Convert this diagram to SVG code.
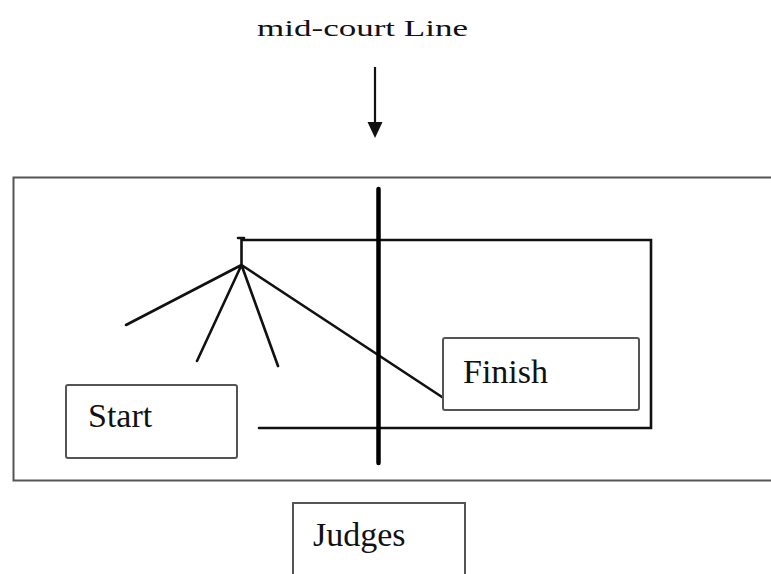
<svg xmlns="http://www.w3.org/2000/svg" width="771" height="574" viewBox="0 0 771 574">
<style>
.box{fill:#fff;stroke:#555;stroke-width:2}
.lbl{font-family:"Liberation Serif","Times New Roman",serif;font-size:34px;fill:#111}
.ln{fill:none;stroke:#111;stroke-width:2.6;stroke-linecap:round}
</style>
<rect width="771" height="574" fill="#fff"/>
<g id="court">
<path d="M780 177.5 H13.5 V480.5 H780" fill="none" stroke="#555" stroke-width="2"/>
<path class="ln" d="M243 240 H651 V428 H259" stroke-width="3"/>
</g>
<g id="connectors">
<line x1="375" y1="67" x2="375" y2="124" stroke="#111" stroke-width="2.2"/>
<polygon points="367.5,122 382.5,122 375,138" fill="#111"/>
<path class="ln" d="M238 238 H244 M241.5 238 V265" stroke-width="3"/>
<path class="ln" d="M241.5 265 L126 325 M241.5 265 L197 361 M241.5 265 L278 366 M241.5 265 L442 397"/>
</g>
<g id="midcourt">
<line x1="378.5" y1="189" x2="378.5" y2="463" stroke="#000" stroke-width="4.5" stroke-linecap="round"/>
</g>
<g id="title">
<text x="257" y="36" font-family="Liberation Serif, Times New Roman, serif" font-size="24" fill="#111" textLength="211" lengthAdjust="spacingAndGlyphs">mid-court Line</text>
</g>
<g id="start">
<rect class="box" x="66" y="385" width="171" height="73" rx="2"/>
<text class="lbl" x="88" y="427">Start</text>
</g>
<g id="finish">
<rect class="box" x="443" y="338" width="196" height="72" rx="2"/>
<text class="lbl" x="463" y="383">Finish</text>
</g>
<g id="judges">
<path class="box" d="M293 576 V503 H465 V576"/>
<text class="lbl" x="313" y="546" font-size="35">Judges</text>
</g>
</svg>
